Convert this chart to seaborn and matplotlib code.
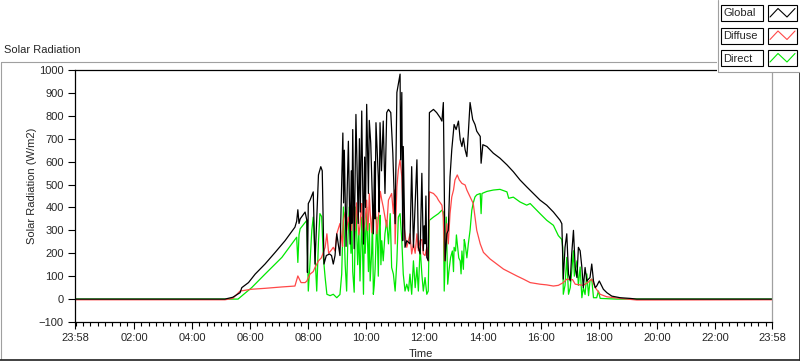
import matplotlib
matplotlib.use("Agg")
import matplotlib.pyplot as plt
import seaborn as sns
import pandas as pd
from matplotlib.patches import Rectangle
from matplotlib.lines import Line2D
from matplotlib.ticker import MultipleLocator
from matplotlib.transforms import Affine2D

# ---- data (time in hours of day, W/m2) ----
global_t = [-0.033, 5.13, 5.40, 5.65, 5.71, 5.94, 6.17, 6.51, 6.86, 7.20,
            7.54, 7.60, 7.64, 7.68, 7.72, 7.89, 7.95, 7.97, 8.00, 8.06,
            8.17, 8.23, 8.35, 8.43, 8.48, 8.54, 8.62, 8.73, 8.80, 8.86,
            8.92, 8.98, 9.09, 9.19, 9.24, 9.30, 9.38, 9.44, 9.53, 9.58,
            9.64, 9.72, 9.84, 9.90, 10.01, 10.07, 10.15, 10.24, 10.33, 10.41,
            10.47, 10.58, 10.64, 10.70, 10.76, 10.84, 10.91, 10.99, 11.05, 11.16,
            11.18, 11.22, 11.25, 11.27, 11.33, 11.39, 11.50, 11.56, 11.62, 11.74,
            11.79, 11.85, 11.91, 11.96, 12.02, 12.08, 12.13, 12.17, 12.31, 12.42,
            12.54, 12.60, 12.65, 12.71, 12.77, 12.82, 12.88, 12.94, 13.02, 13.09,
            13.17, 13.23, 13.29, 13.34, 13.40, 13.46, 13.51, 13.57, 13.66, 13.74,
            13.80, 13.92, 13.95, 14.01, 14.15, 14.37, 14.60, 14.84, 15.06, 15.29,
            15.52, 15.75, 15.98, 16.21, 16.44, 16.67, 16.73, 16.78, 16.84, 16.90,
            16.96, 17.02, 17.07, 17.13, 17.19, 17.25, 17.30, 17.36, 17.42, 17.47,
            17.53, 17.59, 17.70, 17.76, 17.82, 17.88, 17.93, 18.02, 18.16, 18.28,
            18.45, 18.74, 19.08, 19.31, 23.967]
global_v = [0, 0, 8, 28, 50, 72, 109, 153, 204, 255,
            314, 340, 390, 330, 350, 380, 344, 116, 417, 432,
            468, 153, 542, 578, 560, 153, 190, 197, 190, 153,
            190, 285, 190, 725, 650, 230, 689, 240, 740, 220,
            806, 330, 821, 240, 850, 461, 681, 285, 770, 534,
            770, 777, 461, 814, 828, 814, 637, 329, 902, 982,
            608, 902, 255, 666, 226, 255, 241, 578, 226, 608,
            226, 197, 549, 211, 241, 182, 167, 814, 828, 814,
            792, 777, 858, 167, 285, 300, 534, 652, 762, 740,
            777, 696, 666, 703, 652, 622, 725, 858, 784, 762,
            733, 710, 593, 674, 666, 637, 615, 586, 556, 520,
            490, 461, 432, 410, 380, 344, 329, 87, 226, 285,
            109, 79, 197, 300, 138, 94, 226, 211, 138, 50,
            138, 79, 94, 153, 79, 50, 57, 79, 43, 28,
            13, 6, 3, 0, 0]
# extra short spikes in the cloudy morning
global_spike_t = [9.215, 9.34, 9.48, 9.50, 9.61, 9.76, 9.79, 9.94, 9.97, 10.10,
                  10.28, 10.30, 10.44, 10.52, 11.59, 11.99, 12.05]
global_spike_v = [420, 480, 560, 330, 500, 700, 380, 620, 400, 780,
                  600, 350, 380, 560, 400, 320, 450]

diffuse_t = [-0.033, 5.13, 5.40, 5.65, 6.05, 6.51, 7.09, 7.54, 7.64, 7.75,
             7.89, 7.95, 8.06, 8.17, 8.23, 8.35, 8.45, 8.58, 8.64, 8.70,
             8.80, 8.86, 8.92, 8.98, 9.09, 9.15, 9.21, 9.32, 9.38, 9.44,
             9.53, 9.61, 9.70, 9.78, 9.84, 9.90, 9.96, 10.01, 10.07, 10.13,
             10.18, 10.24, 10.36, 10.44, 10.53, 10.58, 10.70, 10.76, 10.87, 10.93,
             10.97, 10.99, 11.05, 11.10, 11.16, 11.22, 11.27, 11.33, 11.39, 11.45,
             11.50, 11.56, 11.62, 11.74, 11.79, 11.85, 11.96, 12.08, 12.13, 12.17,
             12.31, 12.42, 12.48, 12.60, 12.65, 12.69, 12.77, 12.82, 12.88, 12.94,
             13.00, 13.05, 13.13, 13.20, 13.29, 13.40, 13.46, 13.57, 13.68, 13.74,
             13.80, 13.92, 14.03, 14.26, 14.49, 14.72, 14.95, 15.18, 15.41, 15.64,
             15.98, 16.21, 16.44, 16.61, 16.78, 16.90, 17.10, 17.19, 17.47, 17.65,
             17.76, 17.88, 18.05, 18.28, 18.74, 19.31, 23.967]
diffuse_v = [-3, -3, 3, 35, 43, 47, 53, 57, 101, 72,
             72, 79, 109, 120, 138, 167, 180, 226, 285, 200,
             215, 226, 210, 285, 330, 260, 344, 300, 358, 320,
             402, 300, 350, 320, 417, 290, 350, 432, 340, 380,
             290, 400, 285, 400, 432, 402, 314, 432, 461, 373,
             476, 241, 490, 564, 608, 534, 344, 285, 226, 255,
             285, 197, 241, 285, 211, 255, 197, 226, 167, 468,
             461, 446, 432, 410, 358, 167, 329, 241, 373, 446,
             476, 520, 542, 520, 505, 498, 476, 446, 417, 358,
             300, 241, 204, 175, 153, 131, 116, 101, 87, 72,
             65, 62, 57, 60, 72, 87, 85, 65, 60, 75,
             87, 50, 21, 10, 3, -4, -3]
diffuse_spike_t = [9.18, 9.27, 9.49, 9.57, 9.66, 9.74, 9.81, 9.87, 10.04, 10.10,
                   10.21, 10.30, 10.40, 10.48, 11.68, 11.91, 12.02]
diffuse_spike_v = [230, 380, 300, 360, 420, 280, 380, 330, 300, 460,
                   360, 420, 330, 470, 200, 260, 190]

direct_t = [-0.033, 5.58, 6.05, 6.51, 7.09, 7.60, 7.64, 7.68, 7.72, 7.95,
            8.00, 8.06, 8.12, 8.17, 8.23, 8.29, 8.35, 8.40, 8.46, 8.52,
            8.58, 8.64, 8.75, 8.86, 8.98, 9.09, 9.15, 9.21, 9.27, 9.32,
            9.41, 9.47, 9.53, 9.64, 9.70, 9.78, 9.84, 9.90, 9.96, 10.01,
            10.07, 10.13, 10.18, 10.24, 10.30, 10.36, 10.47, 10.53, 10.58, 10.64,
            10.70, 10.76, 10.82, 10.87, 10.93, 10.99, 11.05, 11.10, 11.16, 11.22,
            11.27, 11.33, 11.39, 11.45, 11.50, 11.56, 11.62, 11.68, 11.74, 11.79,
            11.85, 11.91, 11.96, 12.02, 12.08, 12.13, 12.17, 12.31, 12.48, 12.60,
            12.65, 12.68, 12.72, 12.75, 12.80, 12.84, 12.90, 12.96, 13.02, 13.07,
            13.13, 13.18, 13.23, 13.29, 13.34, 13.40, 13.46, 13.51, 13.57, 13.63,
            13.68, 13.74, 13.80, 13.92, 13.95, 13.98, 14.15, 14.37, 14.60, 14.84,
            14.90, 15.06, 15.29, 15.52, 15.64, 15.98, 16.21, 16.44, 16.61, 16.73,
            16.76, 16.78, 16.84, 16.90, 16.96, 17.02, 17.07, 17.13, 17.16, 17.25,
            17.30, 17.36, 17.42, 17.47, 17.53, 17.59, 17.65, 17.70, 17.76, 17.82,
            17.93, 17.99, 18.05, 18.62, 23.967]
direct_v = [0, 0, 50, 109, 182, 270, 160, 280, 307, 344,
            35, 160, 300, 358, 200, 35, 250, 373, 360, 180,
            94, 21, 15, 21, 6, 20, 109, 402, 150, 35,
            402, 200, 120, 402, 150, 79, 358, 21, 200, 402,
            120, 79, 200, 21, 130, 358, 366, 255, 167, 285,
            344, 241, 373, 138, 109, 35, 167, 358, 373, 255,
            109, 35, 65, 35, 109, 21, 167, 50, 138, 35,
            226, 109, 35, 94, 21, 35, 344, 358, 373, 388,
            380, 35, 197, 358, 65, 120, 182, 210, 226, 210,
            241, 180, 167, 210, 130, 241, 180, 241, 300, 388,
            420, 446, 455, 461, 373, 461, 470, 476, 479, 468,
            440, 445, 424, 410, 417, 373, 344, 322, 277, 260,
            226, 21, 60, 182, 21, 50, 120, 211, 100, 167,
            60, 140, 6, 50, 20, 110, 15, 80, 87, 6,
            6, 35, 3, 0, 0]
direct_spike_t = [9.36, 9.50, 9.58, 9.61, 9.74, 9.87, 9.93, 10.04, 10.10, 10.21,
                  10.27, 10.33, 10.41, 10.44, 10.50, 13.00, 13.10, 13.26, 13.37]
direct_spike_v = [250, 350, 30, 260, 300, 200, 320, 250, 330, 350,
                  60, 250, 100, 300, 150, 120, 280, 110, 260]

series_names = ["Global", "Diffuse", "Direct"]
series_colors = {"Global": "#000000", "Diffuse": "#ff4848", "Direct": "#00e800"}

y_ticks = list(range(-100, 1001, 100))
x_ticks = [-2 / 60] + list(range(2, 23, 2)) + [24 - 2 / 60]
x_labels = ["23:58"] + [f"{h:02d}:00" for h in range(2, 23, 2)] + ["23:58"]

# ---- figure ----
sns.set_style("white")
plt.rcParams['font.family'] = ['Liberation Sans', 'DejaVu Sans']
plt.rcParams['font.size'] = 8

W, H = 800, 361
fig = plt.figure(figsize=(W / 100, H / 100), dpi=100)
fig.patch.set_facecolor("white")
px = Affine2D().scale(1 / W, -1 / H).translate(0, 1) + fig.transFigure

ax = fig.add_axes([75 / W, 1 - 322 / H, (772 - 75) / W, (322 - 70) / H])

frames = {
    "Direct": pd.DataFrame({"t": direct_t + direct_spike_t, "v": direct_v + direct_spike_v}),
    "Diffuse": pd.DataFrame({"t": diffuse_t + diffuse_spike_t, "v": diffuse_v + diffuse_spike_v}),
    "Global": pd.DataFrame({"t": global_t + global_spike_t, "v": global_v + global_spike_v}),
}
for name, df in frames.items():
    sns.lineplot(data=df, x="t", y="v", ax=ax, color=series_colors[name],
                 linewidth=0.9, estimator=None, sort=True, legend=False)

ax.set_xlim(-2 / 60, 24 - 2 / 60)
ax.set_ylim(-100, 1000)
ax.set_xticks(x_ticks)
ax.set_xticklabels(x_labels)
ax.xaxis.set_minor_locator(MultipleLocator(0.25))
ax.set_yticks(y_ticks)
ax.set_xlabel("")
ax.set_ylabel("")
ax.tick_params(axis="both", which="major", direction="out", length=5,
               width=0.8, color="black", labelsize=8, pad=3, bottom=True, left=True)
ax.tick_params(axis="x", which="minor", direction="out", length=3,
               width=0.8, color="black", bottom=True)
for side in ["left", "bottom", "top"]:
    ax.spines[side].set_color("black")
    ax.spines[side].set_linewidth(0.9)
ax.spines["right"].set_color("#a0a0a0")
ax.spines["right"].set_linewidth(0.9)

# outer frame of the graph panel
fig.add_artist(Line2D([0.5, 717], [61.5, 61.5], transform=px, color="#a0a0a0", lw=0.8))
fig.add_artist(Line2D([0.5, 0.5], [61.5, 359], transform=px, color="#a0a0a0", lw=0.8))
fig.add_artist(Line2D([0, 799.5], [359.5, 359.5], transform=px, color="#202020", lw=1.2))
fig.add_artist(Line2D([799.5, 799.5], [61.5, 359.5], transform=px, color="#202020", lw=1.2))

# texts
fig.text(4 / W, 1 - 50 / H, "Solar Radiation", ha="left", va="center", fontsize=8)
fig.text(32 / W, 1 - 186 / H, "Solar Radiation (W/m2)", rotation=90,
         ha="center", va="center", fontsize=8)
fig.text(421 / W, 1 - 354 / H, "Time", ha="center", va="center", fontsize=8)

# legend panel (top right)
fig.add_artist(Rectangle((717, 0), 83, 72, transform=px, facecolor="white",
                         edgecolor="none", zorder=5))
fig.add_artist(Line2D([717.5, 717.5], [0, 72], transform=px, color="#a0a0a0", lw=0.8, zorder=6))
fig.add_artist(Line2D([717.5, 800], [72, 72], transform=px, color="#a0a0a0", lw=0.8, zorder=6))
for i, name in enumerate(series_names):
    top = 5 + i * 22.5
    fig.add_artist(Rectangle((721, top), 42, 16, transform=px, facecolor="white",
                             edgecolor="black", lw=0.8, zorder=6))
    fig.add_artist(Rectangle((768, top), 29, 16, transform=px, facecolor="white",
                             edgecolor="black", lw=0.8, zorder=6))
    fig.text(723 / W, 1 - (top + 8.5) / H, name, ha="left", va="center",
             fontsize=8, zorder=7)
    fig.add_artist(Line2D([770, 778, 787, 795], [top + 12, top + 3.5, top + 12, top + 3.5],
                          transform=px, color=series_colors[name], lw=0.8, zorder=7))

fig.savefig("out.png", dpi=100)
